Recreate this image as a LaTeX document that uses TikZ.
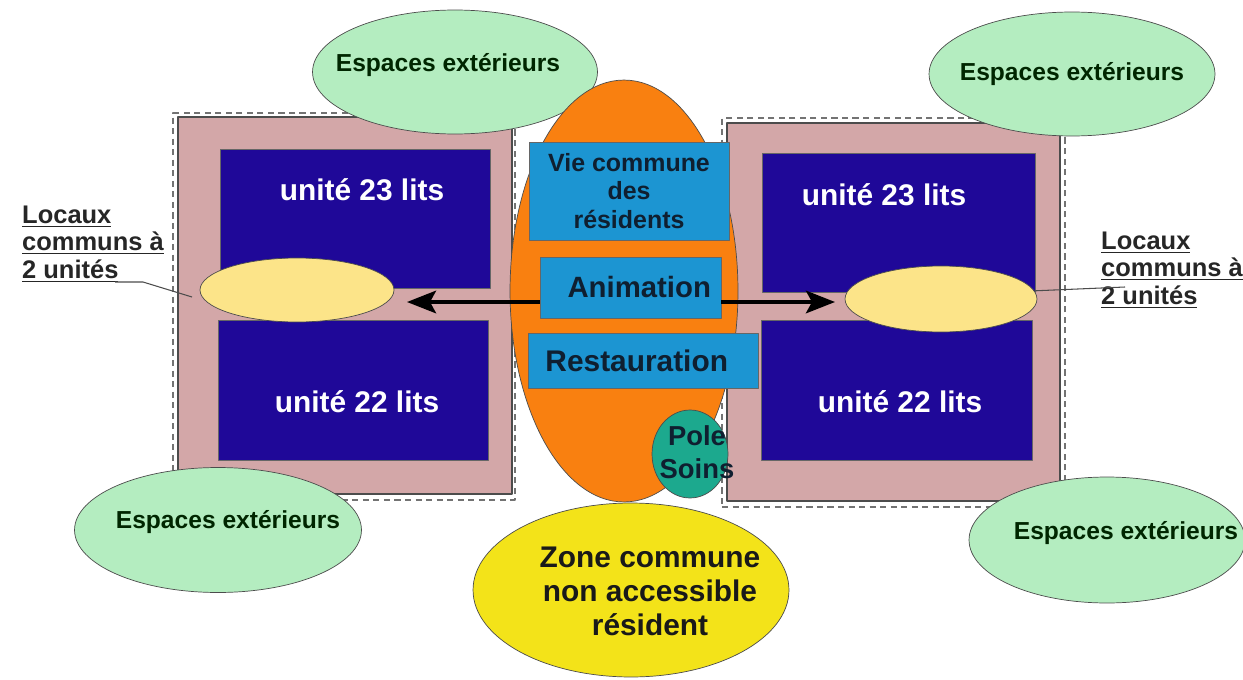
\documentclass[tikz,border=0pt]{standalone}
\usepackage{fontspec}
\setmainfont{Liberation Sans}
\usetikzlibrary{shapes.geometric,arrows.meta}
\definecolor{wingpink}{HTML}{D3A7A8}
\definecolor{unitblue}{HTML}{1F0898}
\definecolor{hubor}{HTML}{F98010}
\definecolor{roomblue}{HTML}{1C95D2}
\definecolor{careteal}{HTML}{1CA98E}
\definecolor{zoneyel}{HTML}{F3E319}
\definecolor{sharedyel}{HTML}{FCE489}
\definecolor{gardengreen}{HTML}{B4EDC0}
\definecolor{inktxt}{HTML}{0F1F30}
\begin{document}
\begin{tikzpicture}[x=0.02cm, y=-0.02cm, line join=round, font=\bfseries,
    fence/.style={draw=black!55, line width=0.7pt, dash pattern=on 3.5pt off 2.5pt, inner sep=0pt},
    wing/.style={draw=black!70, fill=wingpink, line width=0.8pt, inner sep=0pt},
    unit/.style={draw=black!60, fill=unitblue, inner sep=0pt},
    unittxt/.style={text=white, font=\fontsize{17}{20}\bfseries\selectfont},
    room/.style={draw=black!60, fill=roomblue, inner sep=0pt, text=inktxt, align=center},
    garden/.style={ellipse, draw=black!70, fill=gardengreen, inner sep=0pt},
    gardentxt/.style={text=green!15!black, font=\fontsize{14}{17}\bfseries\selectfont},
    shared/.style={ellipse, draw=black!70, fill=sharedyel, inner sep=0pt},
    flow/.style={line width=2.3pt, -{Stealth[length=0.58cm,width=0.45cm,inset=0.12cm]}},
    leader/.style={draw=black!70, line width=0.6pt},
    note/.style={anchor=west, align=left, text=black!85, font=\fontsize{14.5}{15.6}\bfseries\selectfont}]
  \useasboundingbox (0,0) rectangle (1243,679);
  % the two wings
  \node[fence, minimum width=6.84cm, minimum height=7.74cm] (fenceL) at (344,306.5) {};
  \node[fence, minimum width=6.86cm, minimum height=7.78cm] (fenceR) at (893.5,312.5) {};
  \node[wing, minimum width=6.68cm, minimum height=7.54cm] (wingL) at (345,305.5) {};
  \node[wing, minimum width=6.66cm, minimum height=7.56cm] (wingR) at (893.5,312) {};
  \node[unit, minimum width=5.4cm, minimum height=2.78cm] (u23L) at (355,218.5) {};
  \node[unit, minimum width=5.4cm, minimum height=2.8cm] (u22L) at (353,390) {};
  \node[unit, minimum width=5.46cm, minimum height=2.78cm] (u23R) at (898.5,222.5) {};
  \node[unit, minimum width=5.42cm, minimum height=2.8cm] (u22R) at (896.5,390) {};
  \node[unittxt] (u23L-txt) at (362,190) {unité 23 lits};
  \node[unittxt] (u22L-txt) at (357,402) {unité 22 lits};
  \node[unittxt] (u23R-txt) at (884,195) {unité 23 lits};
  \node[unittxt] (u22R-txt) at (900,402) {unité 22 lits};
  \node[shared, minimum width=3.88cm, minimum height=1.28cm] (sharedL) at (297,290) {};
  \node[shared, minimum width=3.84cm, minimum height=1.32cm] (sharedR) at (941,299) {};
  % outdoor spaces
  \foreach \n/\c/\t/\w/\h in {gardenTL/{(455,72)}/{(448,65)}/5.7/2.48,
                              gardenTR/{(1072,74)}/{(1072,74)}/5.72/2.48,
                              gardenBL/{(218,530)}/{(228,522)}/5.74/2.5,
                              gardenBR/{(1107,540)}/{(1126,533)}/5.52/2.52}
    {\node[garden, minimum width=\w cm, minimum height=\h cm] (\n) at \c {};
     \node[gardentxt] (\n-txt) at \t {Espaces extérieurs};}
  % common core
  \node[ellipse, draw=black!70, fill=hubor, inner sep=0pt, minimum width=4.56cm, minimum height=8.44cm] (hub) at (624,291) {};
  \node[room, minimum width=4cm, minimum height=1.96cm, font=\fontsize{14.2}{16.4}\bfseries\selectfont] (life) at (629,191) {Vie commune\\des\\résidents};
  \node[room, minimum width=3.62cm, minimum height=1.22cm, font=\fontsize{16.7}{20}\bfseries\selectfont] (anim) at (630.5,287.5) {\hspace{0.35cm}Animation};
  \node[room, minimum width=4.6cm, minimum height=1.1cm, font=\fontsize{17}{20}\bfseries\selectfont] (resto) at (643,360.5) {Restauration\hspace{0.25cm}};
  \node[ellipse, draw=black!70, fill=careteal, inner sep=0pt, minimum width=1.52cm, minimum height=1.76cm] (care) at (690,454) {};
  \node[align=center, text=inktxt, font=\fontsize{15.6}{18.7}\bfseries\selectfont] (care-txt) at (697,452) {Pole\\Soins};
  \node[ellipse, draw=black!70, fill=zoneyel, inner sep=0pt, minimum width=6.32cm, minimum height=3.48cm] (zone) at (631,590) {};
  \node[align=center, text=black!90, font=\fontsize{17}{19.3}\bfseries\selectfont] (zone-txt) at (650,591) {Zone commune\\non accessible\\résident};
  % links
  \coordinate (tipL) at (407,302);
  \coordinate (tipR) at (835,302);
  \draw[flow] (anim.west |- tipL) -- (tipL);
  \draw[flow] (anim.east |- tipR) -- (tipR);
  % captions
  \node[note] (noteL) at (16,244) {\underline{Locaux}\\\underline{communs à}\\\underline{2 unités}};
  \node[note] (noteR) at (1095,270) {\underline{Locaux}\\\underline{communs à}\\\underline{2 unités}};
  \coordinate (legL) at (115,282);
  \coordinate (kneeL) at (143,282);
  \coordinate (endL) at (192,297);
  \coordinate (legR) at (1125,287);
  \draw[leader] (legL) -- (kneeL) -- (endL);
  \draw[leader] (sharedR.5) -- (legR);
\end{tikzpicture}
\end{document}
